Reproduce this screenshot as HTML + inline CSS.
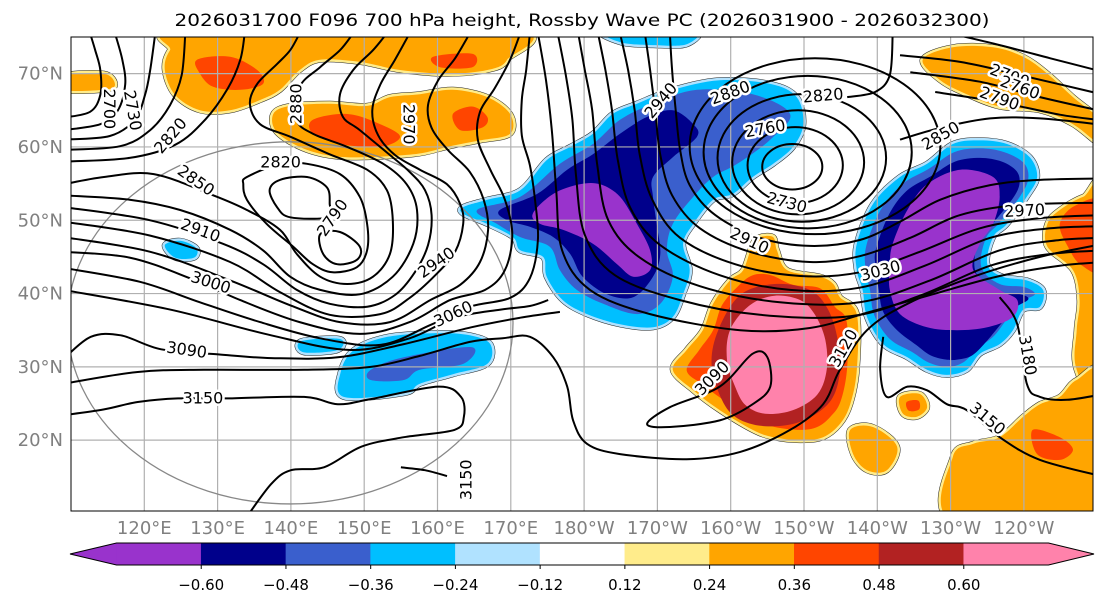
<!DOCTYPE html>
<html><head><meta charset="utf-8">
<style>
html,body{margin:0;padding:0;background:#fff;}
svg{display:block;font-family:"DejaVu Sans","Liberation Sans",sans-serif;}
</style></head>
<body>
<svg id="chart" width="1105" height="604" viewBox="0 0 1105 604" xmlns="http://www.w3.org/2000/svg">
  <rect x="0" y="0" width="1105" height="604" fill="#fff"/>
  <text x="582" y="26" text-anchor="middle" font-size="17" textLength="815" lengthAdjust="spacingAndGlyphs" fill="#000">2026031700 F096 700 hPa height, Rossby Wave PC (2026031900 - 2026032300)</text>
  <defs><clipPath id="mapclip"><rect x="71" y="37" width="1022" height="474"/></clipPath></defs>
  <g id="map" clip-path="url(#mapclip)"></g>
  <rect x="71" y="37" width="1022" height="474" fill="none" stroke="#000" stroke-width="1"/>
  <g id="axes"></g>
  <g id="cbar"></g>
</svg>
<script>
// ---------- axis / colorbar data ----------
const lonTicks = [120,130,140,150,160,170,180,190,200,210,220,230,240];
const lonTickLabels = ['120°E','130°E','140°E','150°E','160°E','170°E','180°W','170°W','160°W','150°W','140°W','130°W','120°W'];
const latTicks = [20,30,40,50,60,70];
const latTickLabels = ['20°N','30°N','40°N','50°N','60°N','70°N'];
const cbLevels = [-0.60,-0.48,-0.36,-0.24,-0.12,0.12,0.24,0.36,0.48,0.60];
const cbLabels = ['\u22120.60','\u22120.48','\u22120.36','\u22120.24','\u22120.12','0.12','0.24','0.36','0.48','0.60'];
const cbColors = ['#9933cc','#00008b','#3a5fcd','#00bfff','#b0e2ff','#ffffff','#ffec8b','#ffa500','#ff4500','#b22222','#ff82ab'];

// ---------- anomaly regions (lon, lat) ----------
const anomA_cyan = [[163.5,51.8],[166.8,52.8],[171.3,54.1],[174.9,58.2],[178.1,60.0],[181.2,61.8],[183.9,64.5],[187.2,65.9],[192.1,67.8],[198.5,69.1],[205.4,68.6],[209.0,66.8],[209.9,63.1],[208.5,60.0],[205.8,57.7],[203.0,55.9],[200.3,53.6],[197.6,52.8],[194.9,49.5],[193.5,46.8],[194.4,43.2],[193.5,39.9],[192.1,36.8],[189.4,35.4],[184.9,35.8],[180.4,37.2],[177.1,39.1],[174.9,42.3],[174.4,45.0],[171.3,45.9],[170.3,47.7],[166.8,49.5],[163.5,50.9]];
const anomA_blue = [[165.4,51.4],[171.3,53.2],[176.7,57.7],[181.2,60.4],[184.9,63.7],[189.4,65.9],[195.4,67.8],[203.0,67.2],[208.1,64.5],[205.4,61.0],[200.9,57.7],[197.6,55.9],[194.9,53.2],[192.1,49.5],[191.3,45.9],[192.1,42.3],[190.4,38.6],[187.2,37.2],[182.6,38.6],[179.0,40.5],[176.7,43.2],[175.3,46.4],[171.3,47.7],[168.1,49.5]];
const anomA_navy = [[168.5,51.4],[173.6,53.6],[177.7,56.9],[181.2,59.0],[184.9,61.8],[188.6,64.1],[192.1,65.0],[194.9,63.1],[195.4,61.4],[192.1,58.6],[189.4,55.9],[189.4,53.2],[189.9,49.5],[190.4,45.4],[189.4,42.3],[186.7,39.5],[183.1,39.9],[179.8,42.3],[178.1,45.4],[175.8,47.7],[172.6,49.1],[169.5,50.0]];
const anomA_purple = [[173.0,50.9],[175.8,53.6],[179.4,54.9],[182.2,54.9],[184.9,53.2],[187.2,49.5],[189.0,45.9],[189.0,43.2],[186.7,42.3],[184.5,44.0],[181.2,46.8],[177.1,48.7],[174.0,49.5]];
const anomB_cyan = [[217.2,46.8],[219.4,52.2],[223.1,55.9],[226.8,57.7],[230.3,60.4],[234.0,60.9],[237.7,60.4],[240.8,58.6],[241.8,55.9],[240.4,53.2],[237.7,49.5],[235.8,47.7],[235.0,44.0],[237.1,42.3],[240.4,41.8],[242.6,40.5],[242.2,38.2],[239.9,37.8],[238.5,35.0],[236.7,33.1],[234.0,31.8],[232.2,29.6],[229.5,28.9],[226.8,29.6],[224.1,31.3],[220.8,33.1],[218.6,36.8],[218.0,40.5],[217.2,43.2]];
const anomB_blue = [[218.5,46.5],[220.5,51.5],[223.5,55],[227,57],[230.5,59.3],[234,59.8],[237.3,59.3],[240,57.8],[240.6,55.7],[239.5,53.3],[236.7,49.7],[234.8,47.5],[234.2,43.6],[236.7,41.3],[240,40.9],[241.5,39.9],[239.4,38.8],[238,37],[236,34.3],[233.7,32.5],[231.7,30.6],[229.5,30],[227,30.6],[224.8,32],[221.7,33.8],[219.6,37],[219,40.5],[218.4,43.2]];
const anomB_navy = [[219.8,46],[221.6,50.8],[224,54],[227.3,56],[230.6,58],[234,58.5],[237,58],[239,56.7],[239.4,55],[238.5,53],[235.8,49.6],[233.8,47.2],[233.4,43],[236.3,40.3],[239.5,39.9],[240.6,39.2],[238.7,38],[237,36],[235,33.6],[233,31.6],[231,31],[229.3,31],[227.2,31.6],[225.3,33],[222.7,35],[220.8,37.5],[220.2,40.5],[219.8,43.5]];
const anomB_purple = [[222.1,46.8],[224.1,51.4],[226.8,54.9],[231.3,56.9],[235.8,55.9],[236.7,53.2],[235.8,49.5],[234.0,46.8],[233.1,43.2],[236.7,40.5],[239.1,39.1],[238.5,36.8],[235.0,35.4],[230.9,35.0],[226.8,35.4],[223.1,37.2],[221.7,40.5],[221.7,44.0]];
const anomC_orange = [[192.1,29.6],[194.0,32.3],[196.2,35.0],[197.6,38.6],[199.9,41.8],[201.7,43.2],[203.0,46.8],[204.0,47.7],[205.8,47.7],[206.3,45.9],[207.7,43.2],[212.2,42.3],[214.0,41.3],[214.9,39.5],[217.2,37.2],[217.2,29.6],[216.3,24.9],[214.9,22.2],[212.6,20.4],[209.5,20.0],[205.8,20.4],[203.0,21.4],[198.5,24.1],[194.9,26.8]];
const anomC_red = [[194,29.5],[195.7,32.3],[197.6,35],[198.8,38.4],[201,41],[203,42.5],[205.5,42.5],[208.5,41.2],[212.2,40.7],[214.2,38.2],[215.8,36.3],[215.9,30],[215,25.3],[213.6,23.2],[211.8,21.8],[209.5,21.4],[206,21.8],[203.4,22.8],[199.3,25.3],[196.3,27.5]];
const anomC_brick = [[198.3,35.0],[201.3,39.8],[206.0,41.3],[210.8,40.5],[213.3,37.8],[214.6,33.7],[214.9,29.3],[213.5,25.2],[209.5,22.5],[204.7,21.9],[200.9,23.0],[198.8,25.5],[197.4,30.3]];
const anomC_pink = [[199.9,35.0],[202.6,38.4],[206.0,39.7],[209.5,39.1],[211.5,37.1],[212.9,33.7],[213.1,29.6],[211.8,26.2],[208.5,24.1],[204.7,23.6],[202.0,24.8],[200.6,27.3],[199.5,30.9]];
const anomD_orange = [[137.6,64.5],[139.9,65.6],[145.3,65.9],[150.4,65.6],[153.5,66.8],[157.6,67.2],[162.1,67.8],[166.8,66.8],[169.9,64.5],[169.9,61.8],[165.8,60.9],[161.7,60.1],[156.7,59.0],[147.7,58.6],[142.2,59.6],[138.1,62.0]];
const anomD_red1 = [[143.0,63.7],[147.7,64.5],[152.2,63.1],[154.9,61.4],[152.2,60.0],[146.7,60.4],[143.0,61.8]];
const anomD_red2 = [[162.1,64.5],[164.8,65.5],[166.8,64.1],[166.2,62.7],[163.1,62.3]];
const anomE_orange = [[126.2,76],[169.9,76],[169.5,71.9],[166.8,70.5],[161.3,70],[154.9,70.5],[149.4,71.6],[144,71.9],[141.2,70.5],[138.5,67.8],[135.8,66.4],[131.7,65],[127.6,65],[124.2,67.1],[122.8,70.5],[123.5,73.2]];
const anomE_red1 = [[127.2,71.9],[131.7,72.3],[135.4,70.5],[136.2,68.6],[133.1,67.8],[129.4,68.2],[127.6,70]];
const anomE_red2 = [[159.4,72.3],[164.8,72.7],[164.8,70.9],[160.3,70.9]];
const anomE_left = [[109,69.7],[114.5,70],[116,68.5],[114.5,67.8],[109,67.8]];
const anomF_orange = [[226.2,71.9],[230.3,73.6],[235.8,73.6],[239.9,72.3],[243.2,70],[246.7,66.8],[251,63.1],[251,60],[246.7,63.1],[242.2,65],[236.7,65.5],[232.2,67.2],[228.6,69.1]];
const anomG_orange = [[243.2,49.5],[244.9,51.4],[248.1,53.2],[251,53.6],[251,24.1],[247.2,29.6],[247.2,35],[247.6,39.1],[246.7,43.2],[243.2,46.4]];
const anomG_red = [[244.9,49.5],[247,52],[251,52.4],[251,43.2],[247.8,43.9],[246,46.4]];
const anomH_orange = [[230.3,17.7],[233.1,19.5],[236.7,20.4],[239.9,23.2],[242.2,24.9],[244.9,25.9],[247.2,28.2],[251,28.6],[251,9],[230.3,9]];
const anomH_left = [[216.3,21.4],[219.4,21.8],[222.7,19.1],[221.3,15.9],[218.6,15.9],[216.7,18.1]];
const anomH_red = [[241.2,21.4],[244.9,20.4],[246.7,18.7],[244.9,17.3],[241.8,18.1]];
const anomJ_orange = [[223.1,25.9],[225.8,26.3],[226.8,24.5],[225.4,23.2],[223.5,23.6]];
const anomJ_red = [[224,25.2],[225.6,25.4],[225.7,24.2],[224.3,24]];
const anomI1_cyan = [[146.8,29.3],[148.6,32.3],[153.2,34.1],[160.1,34.6],[164.4,34.3],[167.2,33.1],[166.8,30.4],[162.1,29.0],[157.6,27.7],[155.4,26.4],[147.2,25.9]];
const anomI1_blue = [[150.9,29.6],[155.4,31.3],[164.6,32.7],[163.5,30.4],[157.6,29.6],[155.4,28.2],[150.9,28.2]];
const anomI2_cyan = [[122.8,46.6],[124.9,47.2],[127.1,46.2],[126.8,44.9],[124.2,44.9]];
const anomI3_cyan = [[141.4,33.5],[146.7,33.8],[146.4,32.3],[141.7,32.0]];
const anomI4_cyan = [[182.6,76],[194.9,76],[194,74],[189.4,73.9],[184.9,74.3]];

// ---------- height contours (lon, lat), dam*10 levels ----------
const h2700w = [[109,64],[112.6,64.8],[114,67.1],[114,70.5],[113.3,73.2],[112.6,75.5]];
const h2730w = [[109,62.3],[114,63.1],[116.4,65],[117.4,68.5],[117,71.9],[116,75.5]];
const h2760w = [[109,61],[115.3,61.5],[118.7,63.7],[120.1,67.1],[120.8,70.5],[121.5,75.5]];
const h2790w = [[109,59.6],[116.7,60.1],[120.8,62.3],[123.5,65.7],[125.1,69.8],[125.6,75.5]];
const h2820w = [[109,58],[118,58.5],[124.2,60.3],[128.3,63.7],[131.4,68],[133.1,71.9],[133.7,75.5]];
const h2820loop = [[134,55.9],[138.5,57.7],[142.2,57.7],[146.7,56.3],[149.4,53.2],[150.4,49.5],[150.4,45.9],[149,43.6],[145.7,42.9],[143,44],[140.3,46.4],[136.7,49.5],[134,52.8],[133.5,54.9]];
const h2790loopA = [[137.1,54.1],[138.5,55.5],[142.2,55.9],[144.9,54.5],[145.3,52.2],[145.1,50.4],[139.9,50.4],[138.1,51.8]];
const h2790loopB = [[144,48.1],[146.7,48.4],[149.4,46.4],[149,44.6],[146.3,44],[144.4,45.4]];
const h2850w = [[109,54.9],[114.5,55.9],[121.3,56.3],[129.4,53.4],[134,51.4],[138.5,48.7],[140.8,45.4],[144,42.3],[147.7,41.3],[151.2,42.3],[153.5,45.4],[153.9,50],[153.1,54.1],[150.4,56.9],[145.3,59],[139.9,61.4],[135.8,63.1],[134.4,65.9],[135.4,68.6],[138.1,71.3],[139.9,73.2],[141.2,75.5]];
const h2880w = [[109,53.4],[118,52.8],[124.9,51.4],[131.7,48.7],[136.2,45.9],[139.9,42.3],[144,40.5],[149.4,39.9],[153.9,42.3],[156.7,46.8],[157.2,51.4],[155.8,54.9],[152.6,57.7],[147.7,60],[143,61.8],[140.8,63.7],[141.2,68.2],[144,70.9],[146.7,73.2],[148.5,75.5]];
const h2910w = [[109,51.8],[120.8,50],[130.7,46.8],[136.2,44],[140.8,40.5],[145.3,38.6],[150.4,38.2],[154.2,39.8],[156.9,42.9],[158.7,46.6],[159.2,50.7],[158.3,54.1],[156.2,56.6],[153.5,58.9],[149.4,62.3],[147.1,64.1],[146.7,67.2],[148.5,70.5],[151.2,73.2],[153.1,75.5]];
const h2940w = [[109,49.8],[120.8,47.9],[131.7,44.3],[138.5,40.2],[145.3,37.1],[152.2,37.2],[156.2,39.4],[159.7,42.5],[162.4,45.7],[163.5,49.5],[163.1,52.2],[161.3,54.9],[157.6,56.9],[154.2,58.9],[151.9,61.6],[151.1,65],[152.2,68.5],[154.2,71.9],[156.2,75.5]];
const h2970w = [[109,47.7],[120.8,45.7],[131.7,41.8],[139.9,38.4],[146.7,36.1],[153.5,36.1],[159,39.1],[163.1,41.2],[165.8,44.3],[166.9,48.7],[166.3,52.8],[164.4,56.6],[161.4,59.6],[159.2,62.6],[158.7,65.7],[160.1,69.1],[162.4,72.1],[164.4,75.5]];
const h3000w = [[109,45.7],[118,44.9],[126.2,42.1],[133.1,39.1],[141.2,36.1],[149.4,34.5],[156.2,36.1],[161.7,39.1],[166.5,40.5],[169.2,43.2],[170.2,48],[169.2,52.8],[167.2,56.9],[165.5,61],[165.8,64.8],[167.8,68],[169.9,71.9],[171.3,75.5]];
const h3030w = [[109,43.5],[119.4,41.6],[127.6,38.8],[135.8,36.1],[144,33.9],[152.2,33],[159,35.7],[164.4,38.2],[169.9,39.4],[172.6,42.1],[173.7,47.3],[173.3,52.8],[172.6,57.5],[171.5,61.6],[171.5,66.4],[172.1,70.5],[172.6,75.5]];
const h3060w = [[109,40.5],[123.6,37.8],[137.3,34.3],[148.1,32.3],[156.2,33.9],[162.4,36.7],[168.5,37.8],[172.6,38.3],[175.1,39.1]];
const h3090w = [[109,31.1],[112.7,34.1],[116.8,34.3],[122.3,32.4],[130.1,31.7],[137.3,31.2],[146.4,31.3],[155.4,33.1],[164.6,35.4],[171.3,36.7],[176.7,37.5]];
const h3120 = [[109,27.7],[119.1,29.3],[128.1,29.6],[141.8,29.6],[150.9,30],[157.6,31.5],[164.4,33.4],[168.9,33.9],[172.6,34.1],[175.8,31.3],[177.7,27.3],[178.5,22.7],[180.4,19.5],[184.9,18.1],[194,17.4],[201.3,18.4],[208.1,21.4],[212.6,24.9],[214.9,29.6],[218.6,35],[224.1,38.6],[233.1,42.3],[242.2,45],[251,46.8]];
const h3150w = [[109,23.4],[114.5,24.2],[119.1,25.2],[124.6,25.7],[131.4,25.7],[141.8,25.9],[146.4,24.9],[150.9,25.6],[160.1,27.3],[163.2,25.9],[163.6,23.2],[162.3,21.4],[155.4,20.4],[149.6,19.1],[144.5,16.3],[140,15.9],[137.3,14],[133.6,9]];
const h3150s = [[155,16.3],[158.3,15.9],[161.3,15.1]];
const h3090loop = [[188.6,22.2],[191.7,24.5],[198.5,27.3],[203,31.8],[205,31.3],[205.4,27.3],[203,24.9],[198.5,22.7],[191.7,21.8]];
const h3150e = [[220.8,34.1],[220.4,29.6],[221.3,25.9],[224.1,27.3],[226.8,26.8],[229.5,24.9],[232.2,24.1],[236.7,20.4],[242.2,17.3],[251,15]];
const h3180e = [[236.7,39.5],[239.1,35.8],[240.4,27.7],[242.2,25.9],[245.9,25.5],[251,26.3]];
const h2880t = [[191.7,75.5],[192.0,70.5],[192.5,65.0],[193.1,59.6],[194.4,54.8],[197.9,50.7],[204.0,47.6],[210.8,46.5],[217.6,47.3],[223.1,49.8],[228.6,52.8],[235.4,54.8],[242.2,55.5],[251,55.7]];
const h2910t = [[188.3,75.5],[189,70.5],[189.7,65],[190.4,58.9],[192,53.4],[195.8,48.9],[202.6,45.7],[210.8,44.3],[217.6,45.1],[224.5,47.6],[231.3,50.7],[239.5,52.1],[251,52.4]];
const h2940t = [[184.9,75.5],[186,70.5],[186.9,65],[187.6,58.9],[189.3,52.8],[193.1,47.6],[200.6,44],[209.5,42.4],[217.6,42.9],[225.8,45.7],[234,48.9],[242.2,50.3],[251,50.7]];
const h2970t = [[181.9,75.5],[182.9,70.5],[183.8,65],[184.6,58.2],[186.3,51.7],[190.4,46.6],[198.5,42.5],[208.1,40.5],[217.6,40.8],[226.5,43.8],[235.4,47.6],[243.6,48.9],[251,49.2]];
const h3000t = [[179.2,75.5],[180.1,70.5],[181.1,65],[181.8,57.5],[183.3,50],[187.6,44.9],[195.8,41],[206.7,38.8],[217.6,38.8],[227.2,41.8],[236.7,45.9],[244.9,47.3],[251,47.6]];
const h3030t = [[176.4,75.5],[177.5,69.8],[178.4,63.7],[178.9,56.1],[180.1,48],[184.2,42.5],[193.1,39.1],[204,37.1],[216.3,36.9],[225.8,39.7],[235.4,43.8],[243.6,45.4],[251,45.9]];
const h3060t = [[173.7,75.5],[174.8,69.1],[175.6,62.3],[176.2,54.1],[177,45.9],[180.8,40.5],[189,37.2],[201.3,35],[210.8,35.3],[219,37.5],[227.2,39.8],[236.7,42.4],[244.9,43.8],[251,44.3]];
const h2820n = [[215.9,66.8],[219.7,67.5],[221.7,69.8],[222.1,75.5]];
const h2850n = [[223.1,61],[228.6,62.6],[235.4,63.9],[242.2,63.9],[251,63]];
const h2700ne = [[229.9,75.5],[236.7,73.9],[243.6,72.1],[251,70.2]];
const h2730ne = [[223.1,72.5],[231.3,71.6],[239.5,69.8],[251,67.1]];
const h2760ne = [[224.5,70.2],[234,68.9],[242.2,66.8],[251,64.8]];
const h2790ne = [[227.9,67.5],[236.7,66.1],[244.9,64.4],[251,63.6]];
// central low closed rings
const ringLevels = [2700,2730,2760,2790,2820,2850];
const ringLon = [208.4,208.8,209.2,209.7,210.5,211.5];
const ringLat = [57.3,57.5,57.9,58.5,59.3,60.1];
const ringRadLon = [4.1,6.5,9.0,11.5,14.2,17.1];
const ringRadLat = [3.1,5.2,7.1,8.7,10.4,12.0];

// contour labels
const labelText = ['2820','2820','2850','2910','3000','3090','3150','2880','2970','2790','2940','3060','3150','2940','2880','2820','2760','2730','2910','2850','2970','3030','3120','3090','3150','3180','2700','2730','2700','2760','2790'];
const labelLon  = [138.6,123.5,127.1,127.7,129.1,125.8,128.0,140.6,156.2,145.6,159.8,162.1,163.8,190.4,199.9,212.6,204.7,207.7,202.6,228.6,240.1,220.4,215.3,197.4,235.1,240.6,115.3,118.5,238.1,239.5,236.7];
const labelLat  = [58.0,61.6,55.5,48.7,41.6,32.4,25.8,65.9,63.1,50.4,44.3,37.3,14.6,66.4,67.5,67.1,62.6,52.5,47.3,61.6,51.4,43.2,32.6,28.5,23.0,31.6,65.2,65.0,69.8,68.2,66.7];
const labelRot  = [0,-50,35,20,18,8,0,-90,90,-55,-35,-25,-90,-50,-20,-5,-10,15,25,-30,-3,-15,-60,-45,40,80,90,80,20,20,20];

// range ring
const ringCenter = [139.9,36.0];
const ringRadius = [30.4,24.7];

// ---------- axis functions ----------
const X0=71, Y0=37, PX=7.33;
function X(lon){ return X0 + (lon-110)*PX; }
function Y(lat){ return Y0 + (75-lat)*PX; }
const NS='http://www.w3.org/2000/svg';
function mk(tag, attrs, parent){ const e=document.createElementNS(NS,tag); for(const k in attrs) e.setAttribute(k,attrs[k]); parent.appendChild(e); return e; }
function smooth(pts, closed){
  const p = pts.map(q=>[X(q[0]),Y(q[1])]); const n=p.length;
  const g=i=> closed ? p[(i+n)%n] : p[Math.max(0,Math.min(n-1,i))];
  let d='M'+p[0][0].toFixed(1)+','+p[0][1].toFixed(1);
  const segs = closed? n : n-1;
  for(let i=0;i<segs;i++){
    const a=g(i-1),b=g(i),c=g(i+1),e=g(i+2);
    const c1=[b[0]+(c[0]-a[0])/6,b[1]+(c[1]-a[1])/6], c2=[c[0]-(e[0]-b[0])/6,c[1]-(e[1]-b[1])/6];
    d+=' C'+c1[0].toFixed(1)+','+c1[1].toFixed(1)+' '+c2[0].toFixed(1)+','+c2[1].toFixed(1)+' '+c[0].toFixed(1)+','+c[1].toFixed(1);
  }
  if(closed) d+=' Z';
  return d;
}
const map=document.getElementById('map');

// ---------- shading ----------
const gShade=mk('g',{},map);


function region(poly, fill, rim, name){
  const d=smooth(poly,true);
  if(rim){
    const o=mk('path',{d:d,fill:'none',stroke:'#222','stroke-width':6,'stroke-linejoin':'round'},gShade);
    
    
    const r=mk('path',{d:d,fill:rim,stroke:rim,'stroke-width':5,'stroke-linejoin':'round'},gShade);
    
    
  }
  const f=mk('path',{d:d,fill:fill},gShade);
  
  
}
const C=cbColors;
region(anomE_orange,C[7],C[6],'pos-anomaly-north-pacific');
region(anomE_red1,C[8],null,'pos-anomaly-core');
region(anomE_red2,C[8],null,'pos-anomaly-core');
region(anomE_left,C[7],C[6],'pos-anomaly-siberia');
region(anomD_orange,C[7],C[6],'pos-anomaly-kamchatka');
region(anomD_red1,C[8],null,'pos-anomaly-core');
region(anomD_red2,C[8],null,'pos-anomaly-core');
region(anomF_orange,C[7],C[6],'pos-anomaly-canada-north');
region(anomG_orange,C[7],C[6],'pos-anomaly-north-america');
region(anomG_red,C[8],null,'pos-anomaly-core');
region(anomH_orange,C[7],C[6],'pos-anomaly-southwest');
region(anomH_left,C[7],C[6],'pos-anomaly-small');
region(anomH_red,C[8],null,'pos-anomaly-core');
region(anomJ_orange,C[7],C[6],'pos-anomaly-small');
region(anomJ_red,C[8],null,'pos-anomaly-core');
region(anomC_orange,C[7],C[6],'pos-anomaly-subtropical');
region(anomC_red,C[8],null,'pos-anomaly-level3');
region(anomC_brick,C[9],null,'pos-anomaly-level4');
region(anomC_pink,C[10],null,'pos-anomaly-core');
region(anomA_cyan,C[3],C[4],'neg-anomaly-dateline');
region(anomA_blue,C[2],null,'neg-anomaly-level3');
region(anomA_navy,C[1],null,'neg-anomaly-level4');
region(anomA_purple,C[0],null,'neg-anomaly-core');
region(anomB_cyan,C[3],C[4],'neg-anomaly-northeast-pacific');
region(anomB_blue,C[2],null,'neg-anomaly-level3');
region(anomB_navy,C[1],null,'neg-anomaly-level4');
region(anomB_purple,C[0],null,'neg-anomaly-core');
region(anomI1_cyan,C[3],C[4],'neg-anomaly-subtropical');
region(anomI1_blue,C[2],null,'neg-anomaly-level3');
region(anomI2_cyan,C[3],C[4],'neg-anomaly-small');
region(anomI3_cyan,C[3],C[4],'neg-anomaly-small');
region(anomI4_cyan,C[3],C[4],'neg-anomaly-small');

// ---------- grid ----------
const gGrid=mk('g',{stroke:'#b0b0b0','stroke-width':1.2,fill:'none'},map);


lonTicks.forEach(l=>{ const ln=mk('line',{x1:X(l),x2:X(l),y1:37,y2:511},gGrid);
  
   });
latTicks.forEach(l=>{ const ln=mk('line',{x1:71,x2:1093,y1:Y(l),y2:Y(l)},gGrid);
  
   });
const circ=mk('ellipse',{cx:X(ringCenter[0]),cy:Y(ringCenter[1]),rx:ringRadius[0]*PX,ry:ringRadius[1]*PX,fill:'none',stroke:'#888','stroke-width':1.3},map);



// ---------- contours ----------
const gCont=mk('g',{fill:'none',stroke:'#000','stroke-width':2,'stroke-linejoin':'round'},map);


const openLines=[h2700w,h2730w,h2760w,h2790w,h2820w,h2850w,h2880w,h2910w,h2940w,h2970w,h3000w,h3030w,h3060w,h3090w,h3120,h3150w,h3150s,h3150e,h3180e,h2880t,h2910t,h2940t,h2970t,h3000t,h3030t,h3060t,h2820n,h2850n,h2700ne,h2730ne,h2760ne,h2790ne];
openLines.forEach(l=>{ const p=mk('path',{d:smooth(l,false)},gCont);
  
   });
[h2820loop,h2790loopA,h2790loopB,h3090loop].forEach(l=>{ const p=mk('path',{d:smooth(l,true)},gCont);
  
   });
ringLevels.forEach((lv,i)=>{ const e=mk('ellipse',{cx:X(ringLon[i]),cy:Y(ringLat[i]),rx:ringRadLon[i]*PX,ry:ringRadLat[i]*PX},gCont);
  
   });

// ---------- contour labels ----------
const gLab=mk('g',{'font-size':16,'text-anchor':'middle',fill:'#000'},map);


labelText.forEach((t,i)=>{
  const x=X(labelLon[i]), y=Y(labelLat[i]);
  const tx=mk('text',{x:x,y:y+6,transform:'rotate('+labelRot[i]+' '+x+' '+y+')',stroke:'#fff','stroke-width':5,'paint-order':'stroke','stroke-linejoin':'round'},gLab);
  tx.textContent=t;
  
  
});

// ---------- axis tick labels ----------
const axes=document.getElementById('axes');
lonTicks.forEach((l,i)=>{ const t=mk('text',{x:X(l),y:534,'text-anchor':'middle','font-size':18,fill:'#808080'},axes);
  t.textContent=lonTickLabels[i];
  
   });
latTicks.forEach((l,i)=>{ const t=mk('text',{x:63,y:Y(l)+6,'text-anchor':'end','font-size':18,fill:'#808080'},axes);
  t.textContent=latTickLabels[i];
  
   });

// ---------- colorbar ----------
const cb=document.getElementById('cbar');
const cbX0=116.5, cbX1=1048.5, cbTop=543, cbBot=565, cbTipL=70, cbTipR=1094;
const nBox=cbColors.length;
const bw=(cbX1-cbX0)/nBox;
function CBX(v){ const i=cbLevels.indexOf(v); return cbX0+(i+1)*bw; }
const tl=mk('polygon',{points:cbX0+','+cbTop+' '+cbX0+','+cbBot+' '+cbTipL+','+((cbTop+cbBot)/2),fill:cbColors[0]},cb);


const tr=mk('polygon',{points:cbX1+','+cbTop+' '+cbX1+','+cbBot+' '+cbTipR+','+((cbTop+cbBot)/2),fill:cbColors[nBox-1]},cb);


cbColors.forEach((c,i)=>{ const r=mk('rect',{x:cbX0+i*bw-0.3,y:cbTop,width:bw+0.6,height:cbBot-cbTop,fill:c},cb);
  
   });
const outl=mk('polygon',{points:cbTipL+','+((cbTop+cbBot)/2)+' '+cbX0+','+cbTop+' '+cbX1+','+cbTop+' '+cbTipR+','+((cbTop+cbBot)/2)+' '+cbX1+','+cbBot+' '+cbX0+','+cbBot,fill:'none',stroke:'#000','stroke-width':1},cb);


cbLevels.forEach((v,i)=>{ const x=CBX(v);
  const tk=mk('line',{x1:x,x2:x,y1:cbBot,y2:cbBot+4,stroke:'#000','stroke-width':1},cb);
  
  
  const t=mk('text',{x:x,y:590,'text-anchor':'middle','font-size':15,fill:'#000'},cb);
  t.textContent=cbLabels[i];
  
   });
</script>
</body></html>
